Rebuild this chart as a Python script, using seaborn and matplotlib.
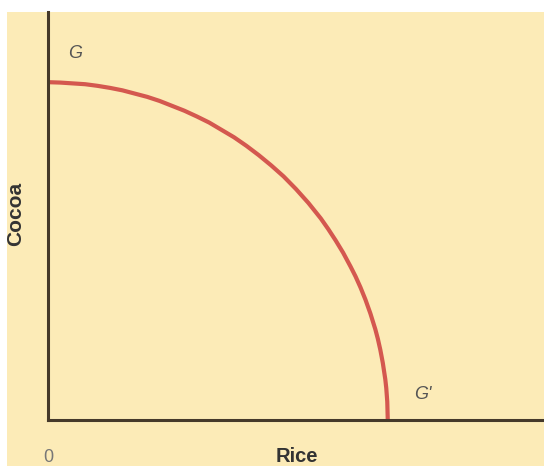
import matplotlib
matplotlib.use("Agg")
import matplotlib.pyplot as plt
import pandas as pd
import seaborn as sns
from matplotlib.patches import Rectangle

# 생산가능곡선 (G - G') — 그림에서 읽은 값
RICE = [0, 2.5, 5, 7.5, 10, 12.5, 15, 17.5, 20, 22.5, 25, 27.5, 30, 32.5, 35, 37.5, 40, 42.5,
        45, 47.5, 50, 52.5, 55, 56.5, 58, 59.5, 61, 62, 63, 64, 65, 66, 66.5, 67, 67.5, 68,
        68.2, 68.4, 68.5]
COCOA = [82.8, 82.7, 82.5, 82.3, 81.9, 81.4, 80.8, 80.0, 79.2, 78.2, 77.0, 75.8, 74.4, 72.9,
         71.1, 69.3, 67.2, 64.9, 62.4, 59.7, 56.6, 53.2, 49.4, 46.8, 44.0, 41.0, 37.6, 35.2,
         32.5, 29.5, 26.1, 22.2, 19.9, 17.2, 14.0, 10.0, 7.8, 4.5, 0]
POINT_LABELS = ["G", "G'"]
X_LABEL = "Rice"
Y_LABEL = "Cocoa"
ORIGIN_LABEL = "0"

BG = "#fcebb7"
CURVE = "#d4584f"
AXIS = "#45392a"
TEXT = "#555555"

sns.set_style("white")
plt.rcParams["font.family"] = ["Liberation Sans", "DejaVu Sans"]

fig = plt.figure(figsize=(5.44, 4.66), dpi=100)
fig.patch.set_facecolor("white")
# 위·왼쪽 흰 여백을 남긴 크림색 바탕
fig.patches.append(Rectangle((7 / 544, 0), 1, (466 - 12) / 466, transform=fig.transFigure,
                             facecolor=BG, edgecolor="none", zorder=-10))

ax = fig.add_axes([48 / 544, 46 / 466, 1 - 48 / 544, (420 - 12) / 466])
ax.set_facecolor(BG)
ax.set_zorder(1)

df = pd.DataFrame({"rice": RICE, "cocoa": COCOA})
sns.lineplot(data=df, x="rice", y="cocoa", sort=False, color=CURVE, lw=3.0, ax=ax,
             solid_capstyle="butt", solid_joinstyle="round")

ax.set_xlim(0, 100)
ax.set_ylim(0, 100)
ax.set_xticks([])
ax.set_yticks([])
ax.set_xlabel("")
ax.set_ylabel("")
for side in ["top", "right"]:
    ax.spines[side].set_visible(False)
for side in ["left", "bottom"]:
    ax.spines[side].set_color(AXIS)
    ax.spines[side].set_linewidth(2.2)

ax.text(5.5, 89.8, POINT_LABELS[0], fontsize=13, style="italic", color=TEXT, ha="center", va="center")
ax.text(75.5, 6.2, POINT_LABELS[1], fontsize=13, style="italic", color=TEXT, ha="center", va="center")

fig.text(16 / 544, 1 - 214 / 466, Y_LABEL, rotation=90, fontsize=15, fontweight="bold",
         color="#333333", ha="center", va="center")
fig.text(297 / 544, 1 - 457 / 466, X_LABEL, fontsize=14.5, fontweight="bold",
         color="#333333", ha="center", va="center")
fig.text(48 / 544, 1 - 458 / 466, ORIGIN_LABEL, fontsize=13, color="#777777",
         ha="center", va="center")

fig.savefig("out.png", dpi=100, facecolor=fig.get_facecolor())
